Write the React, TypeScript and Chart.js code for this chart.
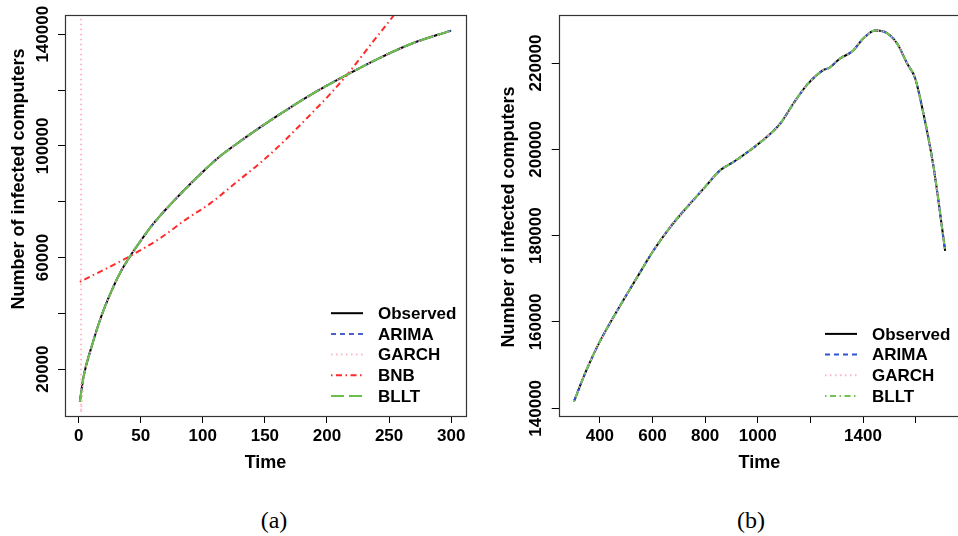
import React, { useEffect, useRef } from "react";
import { Chart, registerables } from "chart.js";

Chart.register(...registerables);

// ---------- Panel (a) data ----------
const leftTime = [1, 4, 11, 18, 26, 34, 43, 50, 58, 64, 70, 78, 96, 112, 130, 147, 171, 192, 217, 241, 268, 300];
const leftObserved = [8300, 17300, 28800, 38600, 47500, 55000, 61500, 66000, 70900, 74100, 77100, 80900, 89000, 95600, 101600, 106900, 113900, 119600, 125700, 131200, 136600, 141300];
// fitted ARIMA and BLLT coincide with the observed curve in the picture
const leftArima = leftObserved;
const leftBllt = leftObserved;
const leftGarchTime = [1, 2, 4, 11, 18, 26, 34, 43, 50, 58, 64, 70, 78, 96, 112, 130, 147, 171, 192, 217, 241, 268, 300];
const leftGarch = [2000000, 4300, 17300, 28800, 38600, 47500, 55000, 61500, 66000, 70900, 74100, 77100, 80900, 89000, 95600, 101600, 106900, 113900, 119600, 125700, 131200, 136600, 141300];
const leftBnbTime = [1, 20, 43, 66, 86, 106, 126, 147, 165, 184, 203, 219, 235, 253, 262];
const leftBnb = [51300, 55500, 60900, 67000, 73500, 79400, 86600, 94200, 101500, 110000, 118800, 127000, 136200, 146300, 151800];
const leftXTicks = [0, 50, 100, 150, 200, 250, 300];
const leftXLabels = ["0", "50", "100", "150", "200", "250", "300"];
const leftYTicks = [20000, 40000, 60000, 80000, 100000, 120000, 140000];
const leftYLabels = ["20000", "", "60000", "", "100000", "", "140000"];

// ---------- Panel (b) data ----------
const rightTime = [301, 350, 400, 479, 542, 603, 668, 732, 795, 858, 909, 972, 1035, 1086, 1136, 1187, 1250, 1269, 1314, 1358, 1402, 1446, 1478, 1529, 1567, 1598, 1624, 1668, 1712];
const rightObserved = [141530, 149000, 155500, 164000, 170400, 176500, 182040, 186680, 190950, 195200, 197120, 199840, 202920, 206030, 210670, 214920, 218400, 218790, 221110, 222650, 225750, 227530, 227300, 224590, 219950, 216470, 209880, 195960, 176500];
const rightArima = rightObserved;
const rightGarch = rightObserved;
const rightBllt = rightObserved;
const rightXTicks = [400, 600, 800, 1000, 1200, 1400, 1600];
const rightXLabels = ["400", "600", "800", "1000", "", "1400", ""];
const rightYTicks = [140000, 160000, 180000, 200000, 220000];
const rightYLabels = ["140000", "160000", "180000", "200000", "220000"];

const xTitle = "Time";
const yTitle = "Number of infected computers";

const FONT = "'Liberation Sans', Arial, Helvetica, sans-serif";

const pts = (xs: number[], ys: number[]) => xs.map((x, i) => ({ x, y: ys[i] }));

const framePlugin = {
  id: "rframe",
  afterDatasetsDraw(chart: any) {
    const { ctx, chartArea: a } = chart;
    ctx.save();
    ctx.strokeStyle = "#333";
    ctx.lineWidth = 1.2;
    ctx.setLineDash([]);
    ctx.strokeRect(Math.round(a.left) + 0.5, Math.round(a.top) + 0.5, Math.round(a.right - a.left), Math.round(a.bottom - a.top));
    ctx.restore();
  },
};

const legendPlugin = {
  id: "rlegend",
  afterDraw(chart: any) {
    const { ctx, chartArea: a } = chart;
    const items = chart.data.datasets;
    const n = items.length;
    ctx.save();
    items.forEach((d: any, i: number) => {
      const y = a.bottom - 20 - (n - 1 - i) * 20.7;
      ctx.strokeStyle = d.borderColor;
      ctx.lineWidth = 2;
      ctx.setLineDash(d.borderDash || []);
      ctx.beginPath();
      ctx.moveTo(a.right - 135, y);
      ctx.lineTo(a.right - 103, y);
      ctx.stroke();
      ctx.setLineDash([]);
      ctx.fillStyle = "#000";
      ctx.font = `bold 17px ${FONT}`;
      ctx.textBaseline = "middle";
      ctx.textAlign = "left";
      ctx.fillText(d.label, a.right - 88, y + 1);
    });
    ctx.restore();
  },
};

const yTitlePlugin = {
  id: "ytitle",
  afterDraw(chart: any, _args: any, opts: any) {
    const { ctx } = chart;
    ctx.save();
    ctx.translate(opts.x, opts.y);
    ctx.rotate(-Math.PI / 2);
    ctx.fillStyle = "#000";
    ctx.font = `bold 18px ${FONT}`;
    ctx.textAlign = "center";
    ctx.textBaseline = "middle";
    ctx.fillText(opts.text, 0, 0);
    ctx.restore();
  },
};

function ds(label: string, data: any[], color: string, dash: number[], order: number, smooth = true) {
  return {
    label,
    data,
    borderColor: color,
    backgroundColor: color,
    borderDash: dash,
    borderWidth: 2,
    pointRadius: 0,
    fill: false,
    order,
    cubicInterpolationMode: smooth ? "monotone" : "default",
    tension: 0,
  };
}

function makeOptions(p: {
  xMin: number; xMax: number; yMin: number; yMax: number;
  xTicks: number[]; xLabels: string[]; yTicks: number[]; yLabels: string[];
  yAxisWidth: number; padRight: number; yTickPad: number; yTitleX: number; yTitleY: number;
}) {
  const tickFont = { family: FONT, size: 17, weight: "bold" as const };
  const titleFont = { family: FONT, size: 18, weight: "bold" as const };
  return {
    responsive: false,
    animation: false as const,
    events: [],
    layout: { padding: { left: 0, top: 15, right: p.padRight, bottom: 0 } },
    plugins: {
      legend: { display: false },
      tooltip: { enabled: false },
      title: { display: false },
      ytitle: { text: yTitle, x: p.yTitleX, y: p.yTitleY },
    },
    scales: {
      x: {
        type: "linear" as const,
        min: p.xMin,
        max: p.xMax,
        afterBuildTicks: (s: any) => { s.ticks = p.xTicks.map((v) => ({ value: v })); },
        afterFit: (s: any) => { s.height = 64; },
        ticks: {
          autoSkip: false,
          maxRotation: 0,
          minRotation: 0,
          color: "#000",
          font: tickFont,
          padding: 3.5,
          callback: (_v: any, i: number) => p.xLabels[i],
        },
        grid: { drawOnChartArea: false, drawTicks: true, tickLength: 7, color: "#000", lineWidth: 1 },
        border: { display: false },
        title: { display: true, text: xTitle, color: "#000", font: titleFont, padding: { top: 0, bottom: 5.7 } },
      },
      y: {
        type: "linear" as const,
        min: p.yMin,
        max: p.yMax,
        afterBuildTicks: (s: any) => { s.ticks = p.yTicks.map((v) => ({ value: v })); },
        afterFit: (s: any) => { s.width = p.yAxisWidth; },
        ticks: {
          autoSkip: false,
          minRotation: 90,
          maxRotation: 90,
          crossAlign: "center" as const,
          color: "#000",
          font: tickFont,
          padding: p.yTickPad,
          callback: (_v: any, i: number) => p.yLabels[i],
        },
        grid: { drawOnChartArea: false, drawTicks: true, tickLength: 7, color: "#000", lineWidth: 1 },
        border: { display: false },
        title: { display: false },
      },
    },
  };
}

export default function App() {
  const leftRef = useRef<HTMLCanvasElement>(null);
  const rightRef = useRef<HTMLCanvasElement>(null);

  useEffect(() => {
    const left = new Chart(leftRef.current as HTMLCanvasElement, {
      type: "line",
      data: {
        datasets: [
          ds("Observed", pts(leftTime, leftObserved), "#000000", [], 4),
          ds("ARIMA", pts(leftTime, leftArima), "#4a62c4", [5, 4], 3),
          ds("GARCH", pts(leftGarchTime, leftGarch), "#ffb6c1", [1.5, 3.5], 2, false),
          ds("BNB", pts(leftBnbTime, leftBnb), "#ff2a2a", [1.5, 3.5, 6, 3.5], 1),
          ds("BLLT", pts(leftTime, leftBllt), "#6cbf4a", [13, 5], 0),
        ] as any,
      },
      options: makeOptions({
        xMin: -10.96, xMax: 311.96, yMin: 3200, yMax: 146900,
        xTicks: leftXTicks, xLabels: leftXLabels, yTicks: leftYTicks, yLabels: leftYLabels,
        yAxisWidth: 65, padRight: 14, yTickPad: -13.6, yTitleX: 19, yTitleY: 179,
      }) as any,
      plugins: [framePlugin, legendPlugin, yTitlePlugin],
    });

    const right = new Chart(rightRef.current as HTMLCanvasElement, {
      type: "line",
      data: {
        datasets: [
          ds("Observed", pts(rightTime, rightObserved), "#000000", [], 4),
          ds("ARIMA", pts(rightTime, rightArima), "#2f55d4", [5, 4], 3),
          ds("GARCH", pts(rightTime, rightGarch), "#ffb6c1", [1.5, 3.5], 2),
          ds("BLLT", pts(rightTime, rightBllt), "#72c450", [1.5, 3.5, 6, 3.5], 0),
        ] as any,
      },
      options: makeOptions({
        xMin: 243.5, xMax: 1768.5, yMin: 138214, yMax: 231130,
        xTicks: rightXTicks, xLabels: rightXLabels, yTicks: rightYTicks, yLabels: rightYLabels,
        yAxisWidth: 78.7, padRight: 20, yTickPad: -12.6, yTitleX: 29.3, yTitleY: 217,
      }) as any,
      plugins: [framePlugin, legendPlugin, yTitlePlugin],
    });

    return () => {
      left.destroy();
      right.destroy();
    };
  }, []);

  const captionStyle: React.CSSProperties = {
    position: "absolute",
    top: 507,
    width: 100,
    height: 26,
    lineHeight: "26px",
    textAlign: "center",
    fontFamily: "'Liberation Serif', 'DejaVu Serif', serif",
    fontSize: 24,
    color: "#000",
  };

  return (
    <div style={{ position: "fixed", left: 0, top: 0, width: 958, height: 536, overflow: "hidden", background: "#fff" }}>
      <canvas ref={leftRef} width={480} height={480} style={{ position: "absolute", left: 0, top: 0, width: 480, height: 480 }} />
      <canvas ref={rightRef} width={500} height={480} style={{ position: "absolute", left: 480, top: 0, width: 500, height: 480 }} />
      <div style={{ ...captionStyle, left: 224 }}>(a)</div>
      <div style={{ ...captionStyle, left: 701 }}>(b)</div>
    </div>
  );
}
